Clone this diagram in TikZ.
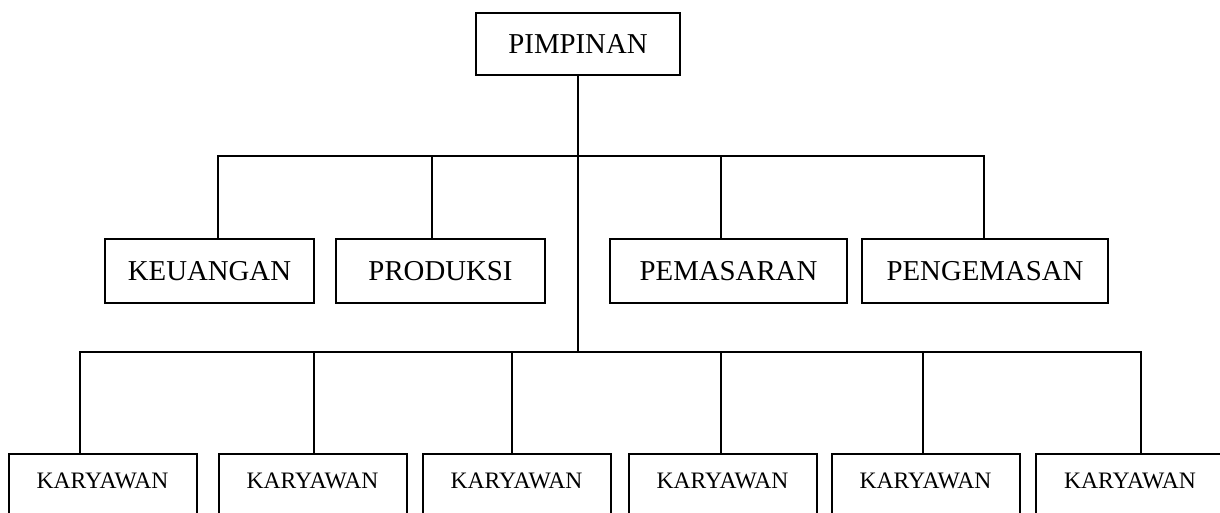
\documentclass[tikz,border=0pt]{standalone}
\usepackage{fontspec}
\setmainfont{Liberation Serif}

\begin{document}
\begin{tikzpicture}[x=0.5pt,y=-0.5pt,line cap=rect]
  \tikzset{
    unit/.style={draw,line width=1pt,inner sep=0pt,
      font=\fontsize{14.4}{17}\selectfont},
    staff/.style={draw,line width=1pt,inner sep=0pt,anchor=north,
      minimum width=94pt,text height=17pt,text depth=30pt,
      font=\fontsize{11.8}{14}\selectfont},
    link/.style={line width=1pt}
  }
  \useasboundingbox (0,0) rectangle (1220,513);
  \clip (0,0) rectangle (1220,513);

  % Head
  \node[unit,minimum width=102pt,minimum height=31pt] (pimpinan) at (578,44) {PIMPINAN};

  % Divisions
  \node[unit,minimum width=104.5pt,minimum height=32pt] (keu) at (209.5,271) {KEUANGAN};
  \node[unit,minimum width=104.5pt,minimum height=32pt] (pro) at (440.5,271) {PRODUKSI};
  \node[unit,minimum width=118.5pt,minimum height=32pt] (pem) at (728.5,271) {PEMASARAN};
  \node[unit,minimum width=123pt,minimum height=32pt] (peng) at (985,271) {PENGEMASAN};

  % Employees
  \node[staff] (k1) at (102.5,453) {KARYAWAN};
  \node[staff] (k2) at (312.5,453) {KARYAWAN};
  \node[staff] (k3) at (516.5,453) {KARYAWAN};
  \node[staff] (k4) at (722.5,453) {KARYAWAN};
  \node[staff] (k5) at (925.5,453) {KARYAWAN};
  \node[staff] (k6) at (1130,453) {KARYAWAN};

  % Bus lines
  \coordinate (bus1) at (578,156);
  \coordinate (bus2) at (578,352);
  \draw[link] (pimpinan) -- (bus2);

  \foreach \n/\dx in {keu/4.25pt,pro/-4.25pt,pem/-3.75pt,peng/-0.5pt}
    \draw[link] ([xshift=\dx]\n.north) |- (bus1);

  \foreach \n/\dx in {k1/-11.25pt,k2/0.75pt,k3/-2.25pt,k4/-0.75pt,k5/-1.25pt,k6/5.5pt}
    \draw[link] ([xshift=\dx]\n.north) |- (bus2);
\end{tikzpicture}
\end{document}
